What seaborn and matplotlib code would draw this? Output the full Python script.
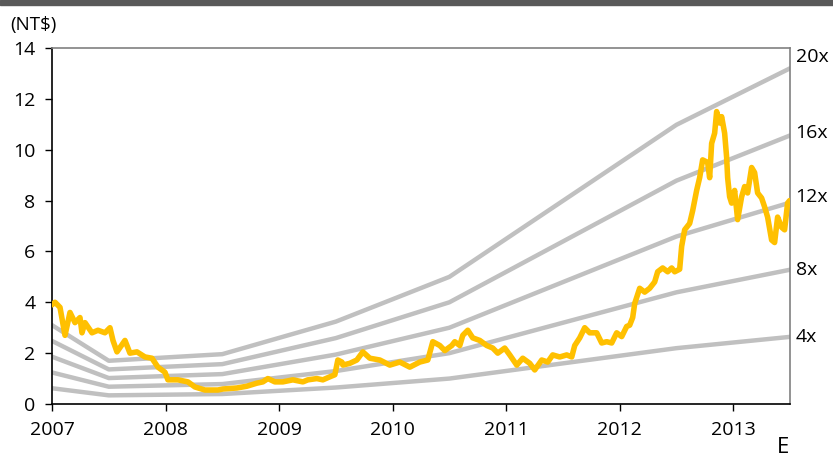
import matplotlib
matplotlib.use("Agg")
import matplotlib.pyplot as plt
import seaborn as sns
import pandas as pd
import numpy as np

# ---- data ----
band_dates = [2007.0, 2007.5, 2008.5, 2009.5, 2010.5, 2012.5, 2013.5]
band_eps = [0.155, 0.085, 0.098, 0.162, 0.25, 0.549, 0.66]
multiples = [4, 8, 12, 16, 20]
multiple_labels = ["4x", "8x", "12x", "16x", "20x"]

price_x_px = [52, 55, 60, 65, 70, 75, 80, 82, 85, 92, 98, 105, 110, 113, 117, 125, 130, 137, 145,
              152, 158, 165, 168, 178, 188, 195, 205, 218, 223, 237, 247, 257, 263, 268, 275, 283,
              293, 303, 308, 317, 323, 330, 335, 338, 342, 343, 350, 357, 363, 370, 380, 390, 400,
              410, 420, 428, 433, 440, 445, 452, 455, 460, 463, 468, 473, 480, 487, 493, 498, 505,
              510, 517, 523, 530, 535, 542, 548, 553, 560, 567, 572, 575, 580, 585, 590, 597, 602,
              607, 612, 617, 622, 627, 630, 633, 635, 640, 645, 650, 655, 658, 663, 668, 672, 675,
              680, 682, 685, 690, 693, 697, 700, 703, 708, 710, 712, 715, 717, 720, 722, 725, 727,
              728, 730, 732, 735, 738, 742, 745, 748, 752, 755, 758, 762, 765, 768, 772, 775, 778,
              782, 785, 788, 790]
price_vals = [3.9, 4.0, 3.8, 2.7, 3.6, 3.2, 3.4, 2.8, 3.2, 2.8, 2.9, 2.8, 3.0, 2.5, 2.05, 2.5, 2.0,
              2.05, 1.85, 1.8, 1.45, 1.25, 0.95, 0.95, 0.87, 0.67, 0.55, 0.55, 0.59, 0.63, 0.7, 0.82,
              0.87, 1.0, 0.87, 0.87, 0.95, 0.87, 0.95, 1.0, 0.95, 1.07, 1.15, 1.73, 1.65, 1.53, 1.6,
              1.73, 2.05, 1.8, 1.73, 1.53, 1.65, 1.45, 1.65, 1.73, 2.45, 2.3, 2.1, 2.3, 2.45, 2.3,
              2.7, 2.9, 2.6, 2.5, 2.3, 2.2, 2.0, 2.2, 1.93, 1.53, 1.8, 1.6, 1.34, 1.73, 1.65, 1.93,
              1.85, 1.93, 1.85, 2.3, 2.6, 3.0, 2.8, 2.8, 2.4, 2.45, 2.4, 2.8, 2.65, 3.05, 3.1, 3.4,
              3.95, 4.55, 4.4, 4.55, 4.8, 5.2, 5.35, 5.2, 5.35, 5.2, 5.3, 6.2, 6.85, 7.1, 7.6, 8.4,
              8.9, 9.6, 9.5, 8.9, 10.25, 10.65, 11.5, 11.05, 11.3, 10.65, 9.7, 8.9, 8.15, 7.9, 8.4,
              7.25, 8.15, 8.55, 8.3, 9.3, 9.1, 8.3, 8.1, 7.75, 7.35, 6.45, 6.35, 7.35, 6.95, 6.85,
              7.9, 8.0]
year_ticks = [2007, 2008, 2009, 2010, 2011, 2012, 2013]
y_ticks = [0, 2, 4, 6, 8, 10, 12, 14]

# ---- frames ----
price_dates = [2007 + (p - 52) / 113.6 for p in price_x_px]
price_df = pd.DataFrame({"date": price_dates, "price": price_vals})
rows = []
for m, lab in zip(multiples, multiple_labels):
    for d, e in zip(band_dates, band_eps):
        rows.append({"date": d, "value": m * e, "band": lab})
band_df = pd.DataFrame(rows)

sns.set_style("ticks")
plt.rcParams["font.family"] = ["Open Sans", "DejaVu Sans"]
plt.rcParams["text.color"] = "black"
plt.rcParams["xtick.color"] = "black"
plt.rcParams["ytick.color"] = "black"

fig = plt.figure(figsize=(8.33, 4.59), dpi=100)
ax = fig.add_axes([52 / 833, 1 - 404 / 459, (790 - 52) / 833, (404 - 48) / 459])

gray = "#C0C0C0"
sns.lineplot(data=band_df, x="date", y="value", hue="band",
             palette={l: gray for l in multiple_labels}, linewidth=3.2,
             legend=False, ax=ax, sort=True, zorder=2)
sns.lineplot(data=price_df, x="date", y="price", color="#FFC000", linewidth=4.0,
             ax=ax, sort=False, zorder=3)

ax.set_xlim(2007, 2013.5)
ax.set_ylim(0, 14)
ax.set_xticks(year_ticks)
ax.set_xticklabels([str(y) for y in year_ticks])
ax.set_yticks(y_ticks)
ax.set_xlabel("")
ax.set_ylabel("")
ax.tick_params(axis="both", labelsize=14, length=5, width=1, color="black",
               labelcolor="black", pad=7)
for s in ["left", "bottom"]:
    ax.spines[s].set_color("black")
    ax.spines[s].set_linewidth(1.2)
for s in ["top", "right"]:
    ax.spines[s].set_visible(True)
    ax.spines[s].set_color("#808080")
    ax.spines[s].set_linewidth(1.2)

# band end labels
end_eps = band_eps[-1]
offsets = {"20x": 8, "16x": 2, "12x": 4, "8x": 0, "4x": 0}
for m, lab in zip(multiples, multiple_labels):
    ax.annotate(lab, xy=(2013.5, m * end_eps), xytext=(4, offsets[lab]),
                textcoords="offset points", ha="left", va="center", fontsize=14,
                color="black", annotation_clip=False)

fig.text(10 / 833, 1 - 25 / 459, "(NT$)", fontsize=13.5, ha="left", va="center",
         color="black")
fig.text(783 / 833, 1 / 459, "E", fontsize=16, ha="center", va="bottom", color="black")
fig.patches.append(plt.Rectangle((0, 1 - 5 / 459), 1, 5 / 459, transform=fig.transFigure,
                                 color="#595959", zorder=10))

fig.savefig("out.png", dpi=100, facecolor="white")
